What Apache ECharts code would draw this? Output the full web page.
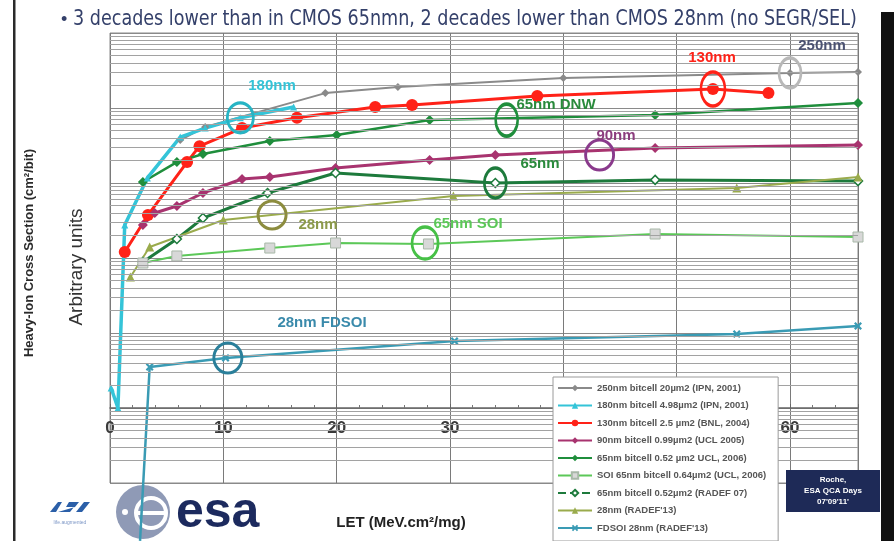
<!DOCTYPE html>
<html>
<head>
<meta charset="utf-8">
<script src="https://cdn.jsdelivr.net/npm/echarts@6/dist/echarts.min.js"></script>
<style>
  html, body { margin: 0; padding: 0; background: #fff; }
  #chart { width: 894px; height: 541px; }
</style>
</head>
<body>
<div id="chart"></div>
<script>
// ---- Heavy-ion cross section vs LET, per technology node (arbitrary units) ----
const let250 = [6.2, 8.4, 19.0, 25.4, 40.0, 60.0, 66.0];
const xs250  = [3.74e4, 5.6e4, 1.58e5, 1.91e5, 2.51e5, 2.93e5, 3.02e5];

const let180 = [0.1, 0.7, 1.3, 3.3, 6.2, 8.4, 11.5, 16.2];
const xs180  = [18.5, 10, 2750, 1.17e4, 4.1e4, 5.4e4, 7.4e4, 1.03e5];

const let130 = [1.3, 3.35, 6.8, 7.9, 11.65, 16.5, 23.4, 26.65, 37.7, 53.2, 58.1];
const xs130  = [1200, 3740, 1.9e4, 3.1e4, 5.4e4, 7.4e4, 1.03e5, 1.10e5, 1.45e5, 1.79e5, 1.58e5];

const let90 = [2.9, 3.95, 5.9, 8.2, 11.65, 14.1, 19.9, 28.2, 34.0, 48.1, 66.0];
const xs90  = [2750, 3980, 4930, 7360, 1.13e4, 1.2e4, 1.58e4, 2.03e4, 2.36e4, 2.93e4, 3.21e4];

const let65ucl = [2.9, 5.9, 8.2, 14.1, 20.0, 28.2, 48.1, 66.0];
const xs65ucl  = [1.03e4, 1.9e4, 2.44e4, 3.63e4, 4.37e4, 6.9e4, 8.07e4, 1.17e5];

const let65soi = [2.9, 5.9, 14.1, 19.9, 28.1, 48.1, 66.0];
const xs65soi  = [857, 1064, 1358, 1585, 1538, 2089, 1905];

const let65radef = [2.9, 5.9, 8.2, 13.9, 19.9, 34.0, 48.1, 66.0];
const xs65radef  = [885, 1790, 3410, 7360, 1.36e4, 1.0e4, 1.1e4, 1.06e4];

const let28 = [1.8, 3.5, 10.0, 30.3, 55.3, 66.0];
const xs28  = [558, 1403, 3214, 6714, 8570, 1.2e4];

const letFdsoi = [2.65, 3.5, 10.2, 30.4, 55.3, 66.0];
const xsFdsoi  = [0.169, 35.2, 46.5, 78.2, 97.0, 124];

// legend captions
const names = [
  '250nm bitcell 20\u00b5m2 (IPN, 2001)',
  '180nm bitcell 4.98\u00b5m2 (IPN, 2001)',
  '130nm bitcell 2.5 \u00b5m2 (BNL, 2004)',
  '90nm bitcell 0.99\u00b5m2 (UCL 2005)',
  '65nm bitcell 0.52 \u00b5m2 UCL, 2006)',
  'SOI 65nm bitcell 0.64\u00b5m2 (UCL, 2006)',
  '65nm bitcell 0.52\u00b5m2 (RADEF 07)',
  "28nm (RADEF'13)",
  "FDSOI 28nm (RADEF'13)"
];

// highlighted points (LET, cross section) circled on the plot
const ring250 = [60.0, 2.93e5];
const ring130 = [53.2, 1.79e5];
const ring180 = [11.5, 7.4e4];
const ringDnw = [35.0, 6.9e4];
const ring90  = [43.2, 2.36e4];
const ring65  = [34.0, 1.0e4];
const ring28  = [14.3, 3740];
const ringSoi = [27.8, 1585];
const ringFd  = [10.4, 46.5];

const zip = (xs, ys) => xs.map((x, i) => [x, ys[i]]);

function ring(coord, color, w, h) {
  return {
    symbol: 'circle',
    symbolSize: [w, h],
    label: { show: false },
    silent: true,
    itemStyle: { color: 'rgba(0,0,0,0)', borderColor: color, borderWidth: 3 },
    data: [{ coord: coord }]
  };
}

function lineSeries(name, data, color, width, symbol, size, extra) {
  return Object.assign({
    name: name,
    type: 'line',
    data: data,
    symbol: symbol,
    symbolSize: size,
    showSymbol: true,
    lineStyle: { color: color, width: width },
    itemStyle: { color: color },
    z: 3
  }, extra || {});
}

// log-style minor grid lines (2..9 within each decade)
const decades = [1, 10, 100, 1e3, 1e4, 1e5];
const multiples = [2, 3, 4, 5, 6, 7, 8, 9];
const minorGrid = [];
decades.forEach(d => multiples.forEach(m => minorGrid.push({ yAxis: d * m })));

const xMark = 'path://M0 2L2 0L5 3L8 0L10 2L7 5L10 8L8 10L5 7L2 10L0 8L3 5Z';

const fdsoiData = zip(letFdsoi, xsFdsoi);
fdsoiData[0] = { value: fdsoiData[0], symbol: 'none' };

const series = [
  {
    name: 'grid-minor',
    type: 'line',
    data: [],
    silent: true,
    z: 1,
    markLine: {
      silent: true,
      symbol: ['none', 'none'],
      label: { show: false },
      lineStyle: { color: '#a2a2a2', width: 1, type: 'solid' },
      emphasis: { disabled: true },
      data: minorGrid
    }
  },
  lineSeries(names[0], zip(let250, xs250), '#8a8a8a', 2, 'diamond', 8,
    { markPoint: ring(ring250, '#b8b8b8', 22, 30) }),
  lineSeries(names[2], zip(let130, xs130), '#ff2218', 3, 'circle', 12,
    { markPoint: ring(ring130, '#ff2218', 24, 34) }),
  lineSeries(names[4], zip(let65ucl, xs65ucl), '#1f8e3c', 2.5, 'diamond', 10,
    { markPoint: ring(ringDnw, '#1f8e3c', 22, 32) }),
  lineSeries(names[3], zip(let90, xs90), '#a8336f', 3, 'diamond', 10,
    { markPoint: ring(ring90, '#8a3a8c', 28, 30) }),
  lineSeries(names[6], zip(let65radef, xs65radef), '#1d7a3c', 3, 'diamond', 9,
    { itemStyle: { color: '#ffffff', borderColor: '#1d7a3c', borderWidth: 1.5 },
      markPoint: ring(ring65, '#1d7a3c', 22, 30) }),
  lineSeries(names[7], zip(let28, xs28), '#9aab4c', 2, 'triangle', 9,
    { markPoint: ring(ring28, '#8c8c3e', 28, 28) }),
  lineSeries(names[5], zip(let65soi, xs65soi), '#5cc858', 2, 'rect', 10,
    { itemStyle: { color: '#d8d8d8', borderColor: '#a8b8a8', borderWidth: 1 },
      markPoint: ring(ringSoi, '#46c046', 26, 32) }),
  lineSeries(names[8], fdsoiData, '#3a9bb4', 2.5, xMark, 8,
    { clip: false, markPoint: ring(ringFd, '#2a7f9a', 28, 30) }),
  lineSeries(names[1], zip(let180, xs180), '#34c4d8', 3.5, 'triangle', 7,
    { markPoint: ring(ring180, '#27b4c4', 26, 30) })
];

const labelFont = 'bold 15px "Liberation Sans", Arial, sans-serif';
function tag(text, x, y, color) {
  return { type: 'text', x: x, y: y, z: 20,
    style: { text: text, fill: color, font: labelFont, textAlign: 'center', textVerticalAlign: 'middle' } };
}

const graphics = [
  // slide frame
  { type: 'rect', shape: { x: 13, y: 0, width: 2.5, height: 541 }, style: { fill: '#2a2a2a' }, z: 30 },
  { type: 'rect', shape: { x: 881, y: 12, width: 13, height: 529 }, style: { fill: '#111' }, z: 30 },
  // headline
  { type: 'text', x: 61, y: 20, z: 30, style: { text: '\u2022', fill: '#34406a', font: '18px "Liberation Sans", Arial', textVerticalAlign: 'middle' } },
  { type: 'text', x: 73, y: 20, z: 30, scaleX: 0.93, style: {
      text: '3 decades lower than in CMOS 65nmn, 2 decades lower than CMOS 28nm (no SEGR/SEL)',
      fill: '#34406a', font: '21px "Liberation Sans Narrow", "DejaVu Sans Condensed", Arial, sans-serif',
      textVerticalAlign: 'middle' } },
  // axis titles
  { type: 'text', x: 29, y: 253, rotation: Math.PI / 2, z: 30, style: {
      text: 'Heavy-Ion Cross Section (cm\u00b2/bit)', fill: '#2a2a2a',
      font: 'bold 13px "Liberation Sans", Arial, sans-serif', textAlign: 'center', textVerticalAlign: 'middle' } },
  { type: 'text', x: 77, y: 267, rotation: Math.PI / 2, z: 30, style: {
      text: 'Arbitrary units', fill: '#333',
      font: '19px "Liberation Sans", Arial, sans-serif', textAlign: 'center', textVerticalAlign: 'middle' } },
  { type: 'text', x: 401, y: 523, z: 30, style: {
      text: 'LET (MeV.cm\u00b2/mg)', fill: '#222',
      font: 'bold 15px "Liberation Sans", Arial, sans-serif', textAlign: 'center', textVerticalAlign: 'middle' } },
  // series tags
  tag('250nm', 822, 46, '#4b5272'),
  tag('130nm', 712, 58, '#ff2218'),
  tag('180nm', 272, 86, '#34c4d8'),
  tag('65nm DNW', 556, 105, '#2a8a3c'),
  tag('90nm', 616, 136, '#8c3e7e'),
  tag('65nm', 540, 164, '#2a8a3c'),
  tag('28nm', 318, 225, '#8c9a4a'),
  tag('65nm SOI', 468, 224, '#5cc858'),
  tag('28nm FDSOI', 322, 323, '#3a8aab'),
  // ST logo
  { type: 'polygon', z: 1, shape: { points: [[50, 512], [58, 502], [62, 502], [56, 512]] }, style: { fill: '#2b5fa8' } },
  { type: 'polygon', z: 1, shape: { points: [[58, 512], [70, 512], [74, 507], [66, 507], [69, 502], [79, 502], [75, 507]] }, style: { fill: '#2b5fa8' } },
  { type: 'polygon', z: 1, shape: { points: [[76, 512], [82, 512], [90, 502], [84, 502]] }, style: { fill: '#2b5fa8' } },
  { type: 'text', x: 70, y: 523, z: 1, style: { text: 'life.augmented', fill: '#7d97c6', font: '5px "Liberation Sans", Arial', textAlign: 'center', textVerticalAlign: 'middle' } },
  // esa logo
  { type: 'circle', z: 1, shape: { cx: 143, cy: 512, r: 27 }, style: { fill: '#8f9ab6' } },
  { type: 'circle', z: 1, shape: { cx: 151, cy: 513, r: 15 }, style: { fill: '#8f9ab6', stroke: '#ffffff', lineWidth: 4 } },
  { type: 'rect', z: 1, shape: { x: 138, y: 511, width: 26, height: 4 }, style: { fill: '#ffffff' } },
  { type: 'circle', z: 1, shape: { cx: 125, cy: 512, r: 3 }, style: { fill: '#ffffff' } },
  { type: 'text', x: 176, y: 513, z: 1, style: { text: 'esa', fill: '#1c2a5e', font: 'bold 50px "Liberation Sans", Arial, sans-serif', textVerticalAlign: 'middle' } },
  // event box
  { type: 'rect', z: 30, shape: { x: 786, y: 470, width: 94, height: 42 }, style: { fill: '#1e2a57' } },
  { type: 'text', x: 833, y: 491, z: 31, style: {
      text: 'Roche,\nESA QCA Days\n07\'09\'11\'', fill: '#ffffff', lineHeight: 11,
      font: 'bold 8px "Liberation Sans", Arial, sans-serif', textAlign: 'center', textVerticalAlign: 'middle' } }
];

const chart = echarts.init(document.getElementById('chart'), null, { renderer: 'canvas' });
chart.setOption({
  animation: false,
  backgroundColor: '#ffffff',
  grid: { left: 110, right: 36, top: 33, bottom: 58, show: true, borderColor: '#8a8a8a', borderWidth: 1 },
  xAxis: {
    type: 'value', min: 0, max: 66, interval: 10, offset: -75,
    axisLine: { show: true, onZero: false, lineStyle: { color: '#666', width: 1.5 } },
    axisTick: { show: true, inside: true, length: 4, lineStyle: { color: '#666' } },
    minorTick: { show: true, splitNumber: 5, length: 3, lineStyle: { color: '#777' } },
    axisLabel: { fontSize: 17, fontWeight: 'bold', color: '#3a3a3a', margin: 12, showMaxLabel: false,
      fontFamily: '"Liberation Sans", Arial, sans-serif' },
    splitLine: { show: true, lineStyle: { color: '#7a7a7a', width: 1 } }
  },
  yAxis: {
    type: 'log', logBase: 10, min: 1, max: 1e6,
    axisLabel: { show: false }, axisTick: { show: false }, axisLine: { show: false },
    splitLine: { show: true, lineStyle: { color: '#8a8a8a', width: 1 } }
  },
  legend: {
    data: names.map((n, i) => i === 6 ? { name: n, lineStyle: { type: 'dashed' } } : n),
    orient: 'vertical', left: 553, top: 377,
    padding: [6, 12, 8, 4], itemWidth: 34, itemHeight: 8, itemGap: 7.5,
    backgroundColor: '#ffffff', borderColor: '#9a9a9a', borderWidth: 1,
    selectedMode: false, z: 10,
    textStyle: { fontSize: 9.5, fontWeight: 'bold', color: '#555', fontFamily: '"Liberation Sans", Arial, sans-serif' }
  },
  graphic: graphics,
  series: series
});
</script>
</body>
</html>
